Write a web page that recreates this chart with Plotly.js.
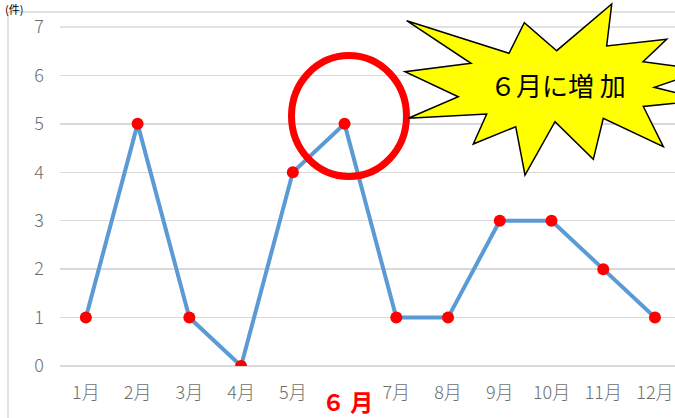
<!DOCTYPE html>
<html><head><meta charset="utf-8">
<script src="https://cdn.plot.ly/plotly-3.0.1.min.js"></script>
<style>html,body{margin:0;padding:0;background:#fff}#chart{width:675px;height:418px}</style>
</head><body><div id="chart"></div>
<script>
const months = ['1月','2月','3月','4月','5月','6月','7月','8月','9月','10月','11月','12月'];
const counts = [1,5,1,0,4,5,1,1,3,3,2,1];
const tickText = ['1月','2月','3月','4月','5月','','7月','8月','9月','10月','11月','12月'];
const yTicks = [0,1,2,3,4,5,6,7];

const W = 675, H = 418, ML = 60, MR = 0, MT = 27, MB = 52;
const PW = W - ML - MR, PH = H - MT - MB;
const px = x => (x - ML) / PW;
const py = y => (H - MB - y) / PH;

// starburst outline (pixel positions of the callout decoration)
const star = [[406.7,20.7],[509,53.3],[524.3,22.7],[556.7,50.7],[611.7,4],[606.7,46],[666.7,39.3],[643,61.7],
  [705,70],[654.3,87.3],[705,100],[643.3,106.5],[663.3,146.7],[603.3,118.3],[593.3,159.3],[555,121.7],
  [525,175],[515.7,126.7],[473.3,144],[486.7,114],[408.3,118.3],[458.3,96.7],[405,71.7],[471,63.3]];
const starPath = 'M ' + star.map(p => px(p[0]).toFixed(4) + ',' + py(p[1]).toFixed(4)).join(' L ') + ' Z';

const xIdx = months.map((m, i) => i);
const trace = {
  x: xIdx, y: counts, type: 'scatter', mode: 'lines+markers',
  line: {color: '#5B9BD5', width: 4},
  marker: {color: '#FF0000', size: 12, line: {width: 0}},
  hoverinfo: 'skip'
};

const tickFont = {family: '"Noto Sans CJK JP", "Noto Sans", sans-serif', size: 18, color: '#6E6E6E', weight: 300};
const layout = {
  width: W, height: H,
  margin: {l: ML, r: MR, t: MT, b: MB},
  paper_bgcolor: '#fff', plot_bgcolor: '#fff',
  showlegend: false,
  xaxis: {
    range: [-0.5, 11 + (675 - 655) / 51.7],
    tickvals: xIdx, ticktext: tickText,
    showgrid: false, zeroline: false, showline: false, ticks: '',
    tickfont: tickFont, ticklabelstandoff: 14, fixedrange: true
  },
  yaxis: {
    range: [0, 7], tickvals: yTicks,
    showgrid: true, gridcolor: '#D9D9D9', gridwidth: 1.5,
    zeroline: true, zerolinecolor: '#D9D9D9', zerolinewidth: 1.5,
    showline: false, ticks: '',
    tickfont: tickFont, ticklabelstandoff: 15, fixedrange: true
  },
  shapes: [
    {type: 'rect', xref: 'paper', yref: 'paper', x0: px(8), x1: px(690), y0: py(430), y1: py(12),
     line: {color: '#D9D9D9', width: 1.5}, fillcolor: 'rgba(0,0,0,0)', layer: 'below'},
    {type: 'line', xref: 'paper', yref: 'paper', x0: px(60), x1: px(690), y0: 1, y1: 1,
     line: {color: '#D9D9D9', width: 1.5}, layer: 'below'},
    {type: 'circle', xref: 'paper', yref: 'paper', x0: px(291.5), x1: px(406.5), y0: py(176.5), y1: py(55.5),
     line: {color: '#FF0000', width: 7}, fillcolor: 'rgba(0,0,0,0)'},
    {type: 'path', xref: 'paper', yref: 'paper', path: starPath,
     fillcolor: '#FFFF00', line: {color: '#000000', width: 1.5}}
  ],
  annotations: [
    {xref: 'paper', yref: 'paper', x: px(558), y: py(84), xanchor: 'center', yanchor: 'middle',
     text: '６月に増 加', showarrow: false, borderpad: 0,
     font: {family: '"Noto Sans CJK JP", sans-serif', size: 26, color: '#000'}},
    {xref: 'paper', yref: 'paper', x: px(347), y: py(401), xanchor: 'center', yanchor: 'middle',
     text: '<b>６ 月</b>', showarrow: false, borderpad: 0,
     font: {family: '"Noto Sans CJK JP", sans-serif', size: 23, color: '#FF0000'}},
    {xref: 'paper', yref: 'paper', x: px(4), y: py(0), xanchor: 'left', yanchor: 'top',
     text: '(件)', showarrow: false, borderpad: 0,
     font: {family: '"Noto Sans CJK JP", sans-serif', size: 11, color: '#000'}}
  ]
};
Plotly.newPlot('chart', [trace], layout, {displayModeBar: false, staticPlot: true});
</script></body></html>
